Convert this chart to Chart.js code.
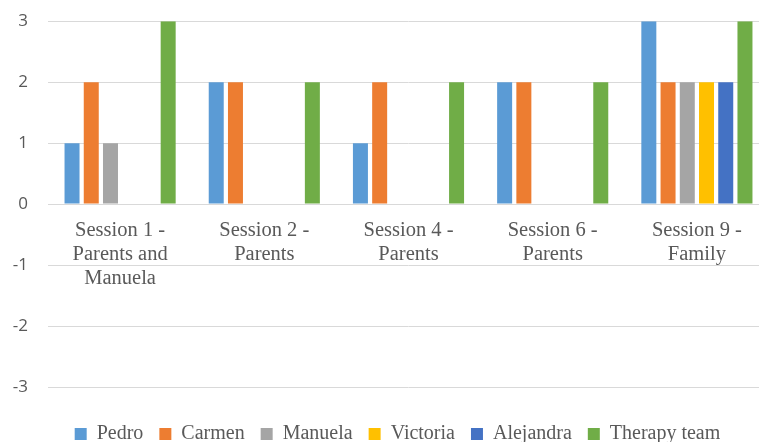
<!DOCTYPE html>
<html lang="en">
<head>
<meta charset="UTF-8">
<title>Sessions</title>
<script src="https://cdn.jsdelivr.net/npm/chart.js@4.4.0/dist/chart.umd.min.js"></script>
<style>
  html, body { margin: 0; padding: 0; background: #fff; overflow: hidden; }
  /* canvas a bit larger than the window so the plot fills it like the original */
  #wrap { position: relative; top: -9px; width: 769px; height: 463px; }
</style>
</head>
<body>
<div id="wrap"><canvas id="chart"></canvas></div>
<script>
// categories (multi-line labels like the original)
const sessions = [
    ['Session 1 -', 'Parents and', 'Manuela'],
    ['Session 2 -', 'Parents'],
    ['Session 4 -', 'Parents'],
    ['Session 6 -', 'Parents'],
    ['Session 9 -', 'Family']
];

// one array per person
const pedro       = [1, 2, 1, 2, 3];
const carmen      = [2, 2, 2, 2, 2];
const manuela     = [1, 0, 0, 0, 2];
const victoria    = [0, 0, 0, 0, 2];
const alejandra   = [0, 0, 0, 0, 2];
const therapyTeam = [3, 2, 2, 2, 3];

const yMin = -3, yMax = 3, yStep = 1;

const grey = '#595959';
const serif = "'Liberation Serif', 'Times New Roman', serif";

function serie(label, data, color) {
    return { label: label, data: data, backgroundColor: color, borderWidth: 0 };
}

// legend sits a little right of centre in the original
const nudgeLegend = {
    id: 'nudgeLegend',
    afterLayout(chart) {
        chart.legend.left += 8;
        chart.legend.right += 8;
    }
};

const ctx = document.getElementById('chart').getContext('2d');
const chart = new Chart(ctx, {
    type: 'bar',
    data: {
        labels: sessions,
        datasets: [
            serie('Pedro', pedro, '#5B9BD5'),
            serie('Carmen', carmen, '#ED7D31'),
            serie('Manuela', manuela, '#A5A5A5'),
            serie('Victoria', victoria, '#FFC000'),
            serie('Alejandra', alejandra, '#4472C4'),
            serie('Therapy team', therapyTeam, '#70AD47')
        ]
    },
    plugins: [nudgeLegend],
    options: {
        responsive: true,
        maintainAspectRatio: false,
        animation: false,
        datasets: {
            bar: { categoryPercentage: 0.8, barPercentage: 0.78 }
        },
        layout: {
            padding: { top: 0, left: 10, right: 0, bottom: 0 }
        },
        plugins: {
            tooltip: { enabled: false },
            legend: {
                position: 'bottom',
                // empty title only used as a spacer above the legend row
                title: { display: true, text: ' ', padding: 10, font: { size: 1, lineHeight: 1 } },
                labels: {
                    boxWidth: 12,
                    boxHeight: 12,
                    padding: 16,
                    color: grey,
                    font: { family: serif, size: 20 }
                }
            }
        },
        scales: {
            x: {
                position: { y: 0 },
                grid: { display: false },
                border: { display: true, color: '#d9d9d9', width: 1 },
                ticks: {
                    color: grey,
                    padding: 7,
                    maxRotation: 0,
                    autoSkip: false,
                    font: { family: serif, size: 20.5, lineHeight: 1.17 }
                }
            },
            y: {
                position: 'left',
                min: yMin,
                max: yMax,
                afterFit: function (scale) { scale.width = 38; },
                grid: { color: '#d9d9d9', lineWidth: 1, drawTicks: false },
                border: { display: false },
                ticks: {
                    stepSize: yStep,
                    color: grey,
                    padding: 20,
                    font: { family: "'Open Sans', sans-serif", size: 17 }
                }
            }
        }
    }
});
</script>
</body>
</html>
